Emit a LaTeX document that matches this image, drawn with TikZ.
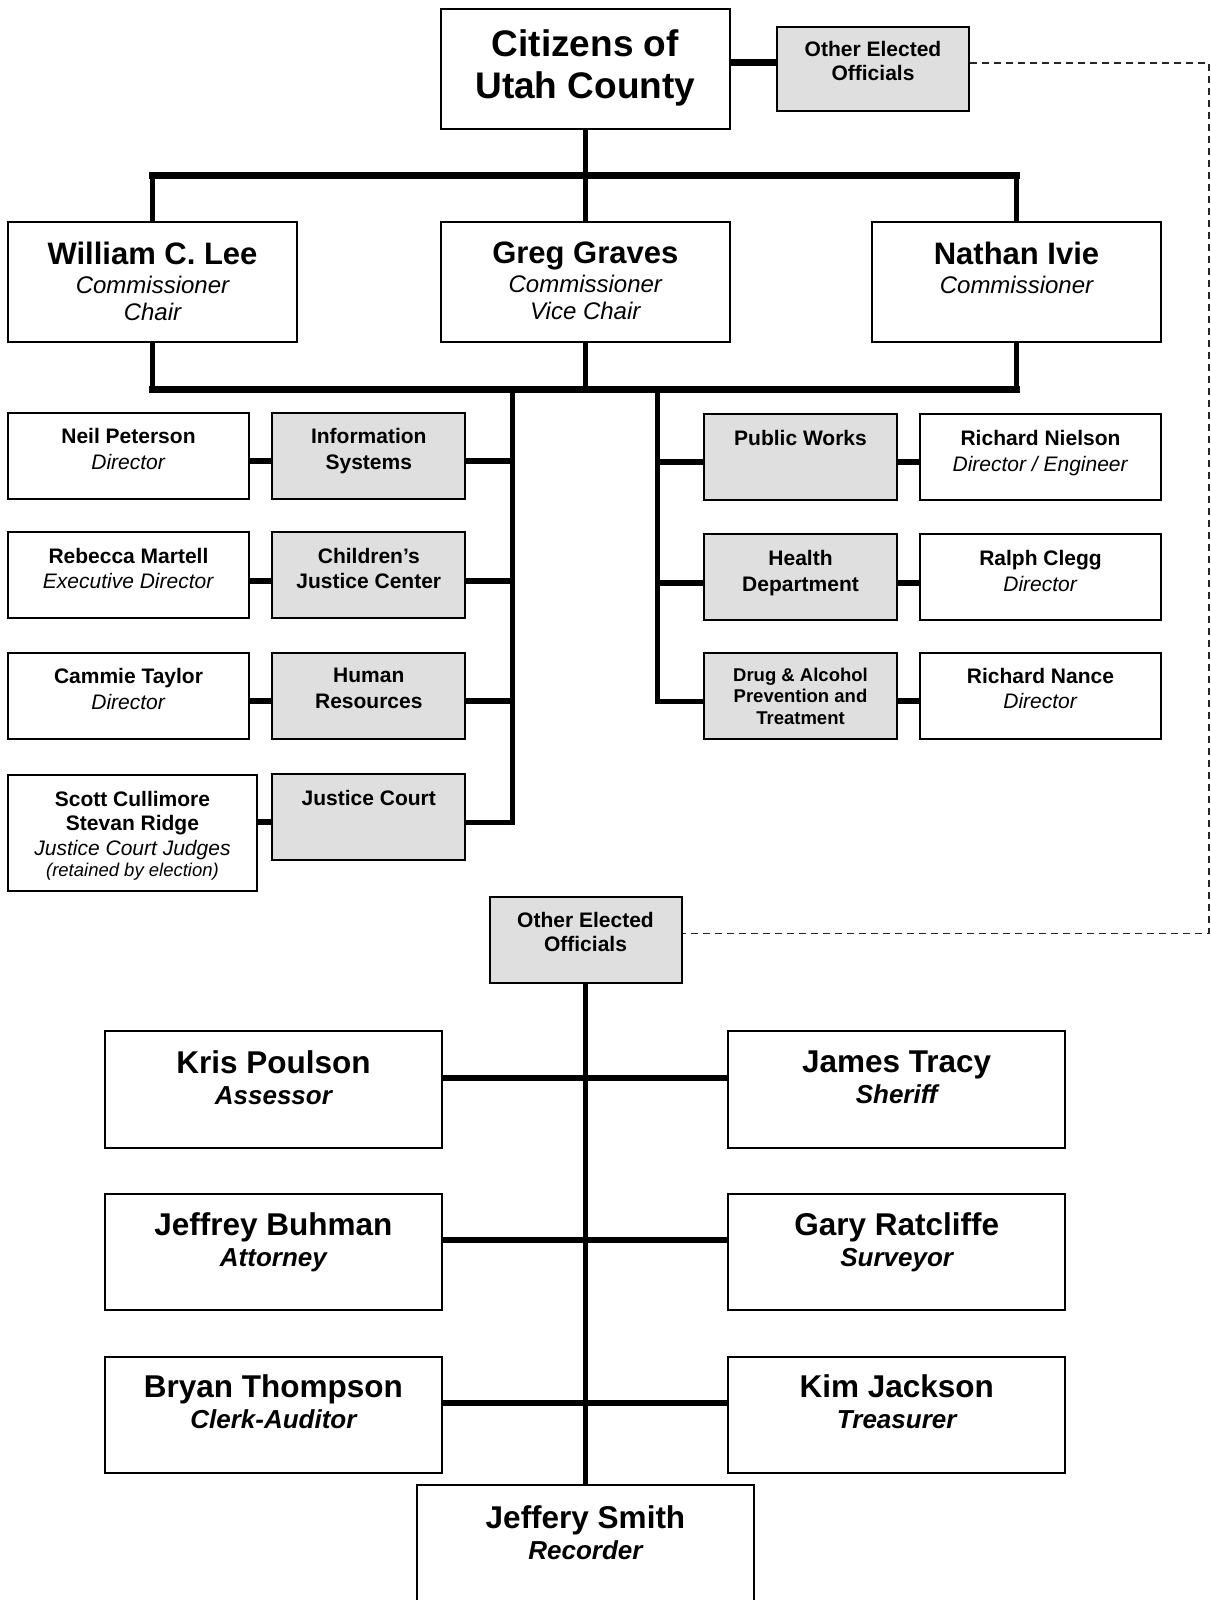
\documentclass[tikz,border=0pt]{standalone}
\usepackage{fontspec}
\setmainfont{Liberation Sans}
\usetikzlibrary{positioning,calc}

\begin{document}
\begin{tikzpicture}[x=1pt,y=-1pt,
  box/.style    ={draw, line width=2pt, fill=white, inner sep=0pt},
  dept/.style   ={box, fill=gray!25},
  small/.style  ={box, minimum width=241pt, minimum height=86pt},
  unit/.style   ={dept, minimum width=193pt, minimum height=86pt},
  comm/.style   ={box, minimum width=289pt, minimum height=119.4pt},
  elect/.style  ={box, minimum width=336.7pt, minimum height=116.3pt},
  txt/.style    ={inner sep=0pt, align=center, font=\fontsize{21}{25.3}\selectfont},
  commtxt/.style={inner sep=0pt, align=center, font=\itshape\fontsize{24}{27.5}\selectfont},
  electtxt/.style={inner sep=0pt, align=center, font=\bfseries\itshape\fontsize{26}{31.3}\selectfont},
  bar/.style    ={line width=6.5pt, line cap=rect},
  stem/.style   ={line width=4.5pt},
  arm/.style    ={line width=6pt},
  dashlink/.style={line width=1.4pt, draw=black!85, dash pattern=on 7pt off 5pt},
]
\useasboundingbox (0,0) rectangle (1210,1600);

% citizens and the first "other elected" box
\node[box, minimum width=288.5pt, minimum height=119.5pt] (cit) at (585.3,68.8) {};
\node[inner sep=0pt, align=center, font=\bfseries\fontsize{37}{42.7}\selectfont, below=21pt of cit.north] (cittxt) {Citizens of\\Utah County};
\node[dept, minimum width=192pt, minimum height=84.5pt] (oeoa) at (873,68.8) {};
\node[txt, font=\bfseries\fontsize{21}{24.5}\selectfont, below=15.5pt of oeoa.north] (oeoatxt) {Other Elected\\Officials};

% commissioners
\node[comm] (lee)    at (152.5,282.1)  {};
\node[comm] (graves) at (585.3,282.1)  {};
\node[comm] (ivie)   at (1016.5,282.1) {};
\node[commtxt, below=20pt of lee.north] (leetxt) {{\upshape\bfseries\fontsize{31}{31}\selectfont William C. Lee}\\[1.5pt]Commissioner\\Chair};
\node[commtxt, below=20pt of graves.north] (gravestxt) {{\upshape\bfseries\fontsize{31}{31}\selectfont Greg Graves}\\[1.5pt]Commissioner\\Vice Chair};
\node[commtxt, below=20pt of ivie.north] (ivietxt) {{\upshape\bfseries\fontsize{31}{31}\selectfont Nathan Ivie}\\[1.5pt]Commissioner};

\coordinate (topbar) at (585.3,175.5);
\coordinate (lowbar) at (585.3,389.7);
\draw[stem] (cit.south) -- (topbar);
\foreach \c in {lee,graves,ivie} {
  \draw[stem] (\c.north) -- (\c.north |- topbar);
  \draw[stem] (\c.south) -- (\c.south |- lowbar);
}
\draw[bar] (lee.north |- topbar) -- (ivie.north |- topbar);
\draw[bar] (lee.south |- lowbar) -- (ivie.south |- lowbar);

% citizens -> other elected officials (and the dashed link down)
\coordinate (citlvl) at (0,63);
\draw[line width=7pt] (cit.east |- citlvl) -- (oeoa.west |- citlvl);

% left departments
\node[small] (npet) at (128.5,456)    {};
\node[unit]  (isys) at (368.8,456)    {};
\node[small] (rmar) at (128.5,575.25) {};
\node[unit]  (cjc)  at (368.8,575.25) {};
\node[small] (ctay) at (128.5,695.8)  {};
\node[unit]  (hres) at (368.8,695.8)  {};
\node[box, minimum width=249pt, minimum height=115.6pt] (judges) at (132.5,832.8) {};
\node[unit]  (jcourt) at (368.8,817)  {};

\node[txt, below=16.5pt of npet.north] (npettxt) {\textbf{Neil Peterson}\\\textit{Director}};
\node[txt, below=16.5pt of isys.north] (isystxt) {\textbf{Information}\\\textbf{Systems}};
\node[txt, below=16.5pt of rmar.north] (rmartxt) {\textbf{Rebecca Martell}\\\textit{Executive Director}};
\node[txt, below=16.5pt of cjc.north]  (cjctxt)  {\textbf{Children’s}\\\textbf{Justice Center}};
\node[txt, below=16.5pt of ctay.north] (ctaytxt) {\textbf{Cammie Taylor}\\\textit{Director}};
\node[txt, below=16.5pt of hres.north] (hrestxt) {\textbf{Human}\\\textbf{Resources}};
\node[txt, font=\fontsize{21}{24.5}\selectfont, below=16.8pt of judges.north] (judgestxt) {\textbf{Scott Cullimore}\\\textbf{Stevan Ridge}\\\textit{Justice Court Judges}\\[-3pt]{\itshape\fontsize{18.5}{18.5}\selectfont (retained by election)}};
\node[txt, below=17.4pt of jcourt.north] (jcourttxt) {\textbf{Justice Court}};

\coordinate (l1) at ($(isys.north)!0.56!(isys.south)$);
\coordinate (l2) at ($(cjc.north)!0.56!(cjc.south)$);
\coordinate (l3) at ($(hres.north)!0.56!(hres.south)$);
\coordinate (l4) at ($(jcourt.north)!0.56!(jcourt.south)$);
\coordinate (ltrunk) at (512,389.7);
\draw[arm] (npet.east |- l1) -- (isys.west |- l1);
\draw[arm] (rmar.east |- l2) -- (cjc.west |- l2);
\draw[arm] (ctay.east |- l3) -- (hres.west |- l3);
\draw[arm] (judges.east |- l4) -- (jcourt.west |- l4);
\draw[arm] (isys.east |- l1) -- (ltrunk |- l1);
\draw[arm] (cjc.east |- l2) -- (ltrunk |- l2);
\draw[arm] (hres.east |- l3) -- (ltrunk |- l3);
\draw[line width=5pt] (ltrunk) -- (ltrunk |- l4) -- (jcourt.east |- l4);

% right departments
\node[unit]  (pworks) at (800.5,457)    {};
\node[small] (rniel)  at (1040.5,457)   {};
\node[unit]  (health) at (800.5,577.3)  {};
\node[small] (rclegg) at (1040.5,577.3) {};
\node[unit]  (drug)   at (800.5,695.8)  {};
\node[small] (rnance) at (1040.5,695.8) {};

\node[txt, below=17.4pt of pworks.north] (pworkstxt) {\textbf{Public Works}};
\node[txt, below=17.4pt of rniel.north]  (rnieltxt)  {\textbf{Richard Nielson}\\\textit{Director / Engineer}};
\node[txt, below=17.2pt of health.north] (healthtxt) {\textbf{Health}\\\textbf{Department}};
\node[txt, below=17.2pt of rclegg.north] (rcleggtxt) {\textbf{Ralph Clegg}\\\textit{Director}};
\node[txt, font=\bfseries\fontsize{18.5}{21.3}\selectfont, below=16.2pt of drug.north] (drugtxt) {Drug \& Alcohol\\Prevention and\\Treatment};
\node[txt, below=16.3pt of rnance.north] (rnancetxt) {\textbf{Richard Nance}\\\textit{Director}};

\coordinate (r1) at ($(pworks.north)!0.56!(pworks.south)$);
\coordinate (r2) at ($(health.north)!0.56!(health.south)$);
\coordinate (r3) at ($(drug.north)!0.56!(drug.south)$);
\coordinate (rtrunk) at (657,389.7);
\draw[arm] (pworks.east |- r1) -- (rniel.west |- r1);
\draw[arm] (health.east |- r2) -- (rclegg.west |- r2);
\draw[arm] (drug.east |- r3) -- (rnance.west |- r3);
\draw[arm] (rtrunk |- r1) -- (pworks.west |- r1);
\draw[arm] (rtrunk |- r2) -- (health.west |- r2);
\draw[line width=5pt] (rtrunk) -- (rtrunk |- r3) -- (drug.west |- r3);

% other elected officials
\node[dept, minimum width=192pt, minimum height=85.7pt] (oeob) at (585.5,939.7) {};
\node[txt, font=\bfseries\fontsize{21}{24.5}\selectfont, below=16pt of oeob.north] (oeobtxt) {Other Elected\\Officials};

\coordinate (dashtop) at (1208.8,63);
\coordinate (dashbot) at (1208.8,933.5);
\draw[dashlink] (oeoa.east |- dashtop) -- (dashtop) -- (dashbot) -- (oeob.east |- dashbot);

\node[elect] (kpoul)  at (273.4,1089.6) {};
\node[elect] (jtracy) at (896.7,1089.6) {};
\node[elect] (jbuhm)  at (273.4,1251.8) {};
\node[elect] (gratc)  at (896.7,1251.8) {};
\node[elect] (bthom)  at (273.4,1415)   {};
\node[elect] (kjack)  at (896.7,1415)   {};
\node[box, minimum width=337pt, minimum height=125pt] (jsmith) at (585.5,1547.5) {};

\node[electtxt, below=19.8pt of kpoul.north]  (kpoultxt)  {{\upshape\fontsize{31.5}{31.5}\selectfont Kris Poulson}\\Assessor};
\node[electtxt, below=19.8pt of jtracy.north] (jtracytxt) {{\upshape\fontsize{31.5}{31.5}\selectfont James Tracy}\\Sheriff};
\node[electtxt, below=19.6pt of jbuhm.north]  (jbuhmtxt)  {{\upshape\fontsize{31.5}{31.5}\selectfont Jeffrey Buhman}\\Attorney};
\node[electtxt, below=19.6pt of gratc.north]  (gratctxt)  {{\upshape\fontsize{31.5}{31.5}\selectfont Gary Ratcliffe}\\Surveyor};
\node[electtxt, below=18.7pt of bthom.north]  (bthomtxt)  {{\upshape\fontsize{31.5}{31.5}\selectfont Bryan Thompson}\\Clerk-Auditor};
\node[electtxt, below=18.7pt of kjack.north]  (kjacktxt)  {{\upshape\fontsize{31.5}{31.5}\selectfont Kim Jackson}\\Treasurer};
\node[electtxt, below=21.2pt of jsmith.north] (jsmithtxt) {{\upshape\fontsize{31.5}{31.5}\selectfont Jeffery Smith}\\Recorder};

\coordinate (e1) at ($(kpoul.north)!0.4!(kpoul.south)$);
\coordinate (e2) at ($(jbuhm.north)!0.4!(jbuhm.south)$);
\coordinate (e3) at ($(bthom.north)!0.4!(bthom.south)$);
\draw[arm] (kpoul.east |- e1) -- (jtracy.west |- e1);
\draw[arm] (jbuhm.east |- e2) -- (gratc.west |- e2);
\draw[arm] (bthom.east |- e3) -- (kjack.west |- e3);
\draw[stem] (oeob.south) -- (jsmith.north);
\end{tikzpicture}
\end{document}
